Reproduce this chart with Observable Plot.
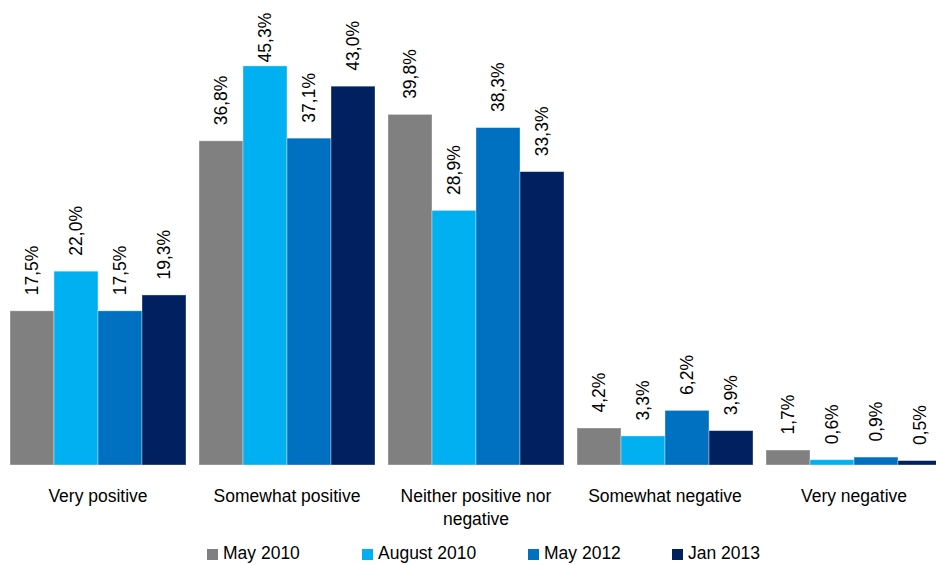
<!DOCTYPE html>
<html>
<head>
<meta charset="utf-8">
<script src="https://cdn.jsdelivr.net/npm/d3@7"></script>
<script src="https://cdn.jsdelivr.net/npm/@observablehq/plot@0.6"></script>
<style>
  html, body { margin: 0; padding: 0; background: #fff; overflow: hidden; }
  body { width: 936px; height: 565px; font-family: "Liberation Sans", Arial, sans-serif; }
  #chart svg { display: block; overflow: hidden; }
  #legend { display: flex; padding-left: 207px; padding-top: 10px; font-size: 17.5px; line-height: 22px; color: #000; }
  #legend .item { display: flex; align-items: center; white-space: nowrap; }
  #legend .sw { width: 11px; height: 11px; margin-right: 5px; margin-top: 2px; }
</style>
</head>
<body>
<div id="chart"></div>
<div id="legend"></div>
<script>
// Response categories and their axis labels (with line breaks)
const categories = ["Very positive", "Somewhat positive", "Neither positive nor negative", "Somewhat negative", "Very negative"];
const categoryLabels = ["Very positive", "Somewhat positive", "Neither positive nor\nnegative", "Somewhat negative", "Very negative"];

// Survey waves
const series = ["May 2010", "August 2010", "May 2012", "Jan 2013"];
const seriesColors = ["#808080", "#00B0F0", "#0070C0", "#002060"];

// Share of respondents (%) per wave, in category order
const may2010 = [17.5, 36.8, 39.8, 4.2, 1.7];
const aug2010 = [22.0, 45.3, 28.9, 3.3, 0.6];
const may2012 = [17.5, 37.1, 38.3, 6.2, 0.9];
const jan2013 = [19.3, 43.0, 33.3, 3.9, 0.5];

const valuesBySeries = [may2010, aug2010, may2012, jan2013];
const data = series.flatMap((s, i) =>
  categories.map((c, j) => ({category: c, series: s, value: valuesBySeries[i][j]}))
);

const labelOf = new Map(categories.map((c, i) => [c, categoryLabels[i]]));
const pct = v => v.toFixed(1).replace(".", ",") + "%";
const font = `"Liberation Sans", Arial, sans-serif`;

// Labels of the tallest bars would run past the top edge; those sit closer to their bar
const crowded = d => d.value > 45;

const chart = Plot.plot({
  width: 936,
  height: 532,
  marginTop: 24.5,
  marginBottom: 67,
  marginLeft: 8,
  marginRight: -7,
  style: {fontFamily: font, fontSize: "17.5px", color: "#000", background: "#fff"},
  fx: {domain: categories, paddingInner: 0.066, paddingOuter: 0, axis: null, label: null},
  x: {domain: series, padding: 0, axis: null, label: null},
  y: {domain: [0, 50], axis: null, label: null},
  color: {domain: series, range: seriesColors},
  marks: [
    Plot.barY(data, {
      fx: "category", x: "series", y: "value", fill: "series",
      stroke: "#ffffff", strokeOpacity: 0.45, strokeWidth: 0.8, inset: 0
    }),
    Plot.text(data.filter(d => !crowded(d)), {
      fx: "category", x: "series", y: "value", text: d => pct(d.value),
      rotate: -90, textAnchor: "start", lineAnchor: "middle", dy: -16,
      fill: "#000", fontSize: 17.5
    }),
    Plot.text(data.filter(crowded), {
      fx: "category", x: "series", y: "value", text: d => pct(d.value),
      rotate: -90, textAnchor: "start", lineAnchor: "middle", dy: -4,
      fill: "#000", fontSize: 17.5
    }),
    Plot.text(categories, {
      fx: d => d, text: d => labelOf.get(d), frameAnchor: "bottom",
      lineAnchor: "top", dy: 19, lineHeight: 1.37, fill: "#000", fontSize: 17.5
    })
  ]
});
document.getElementById("chart").appendChild(chart);

// Legend below the chart
const widths = [155, 166, 144, null];
const legend = d3.select("#legend");
series.forEach((s, i) => {
  const item = legend.append("div").attr("class", "item");
  if (widths[i]) item.style("width", widths[i] + "px");
  item.append("div").attr("class", "sw").style("background", seriesColors[i]);
  item.append("span").text(s);
});
</script>
</body>
</html>
